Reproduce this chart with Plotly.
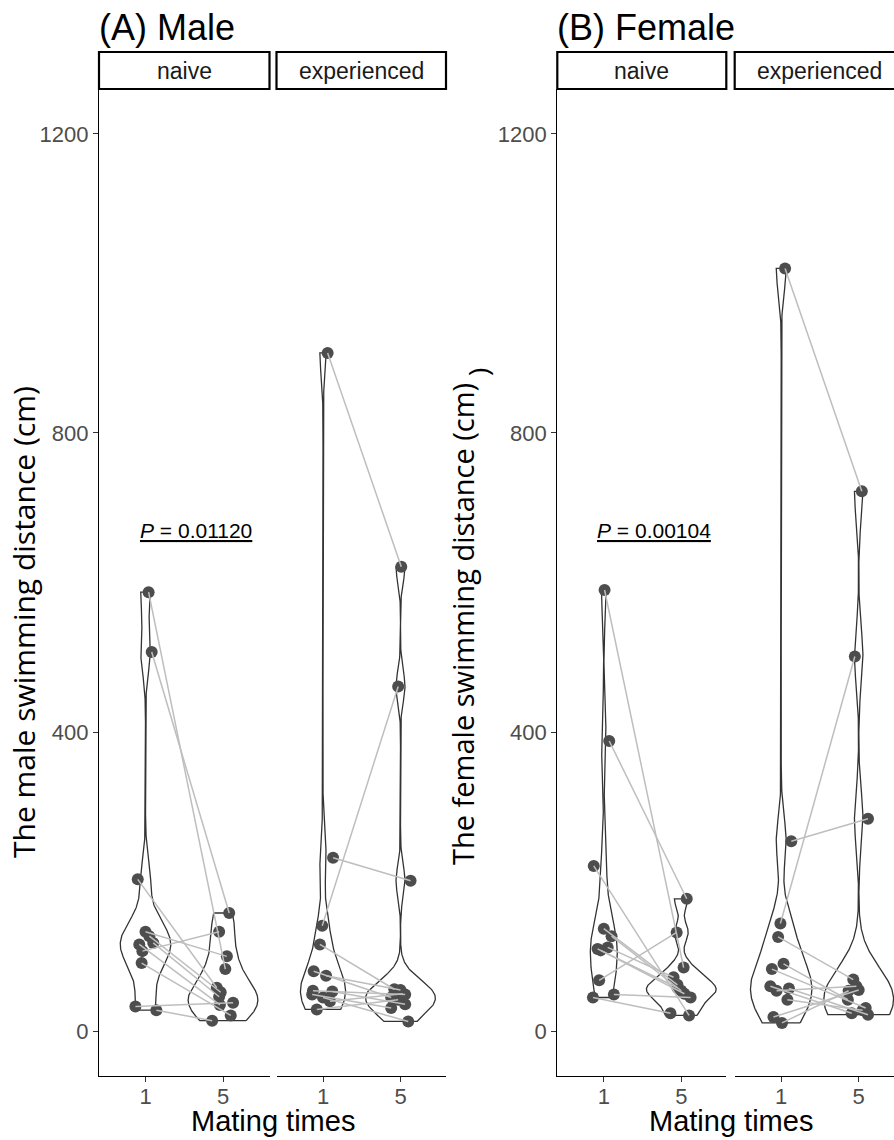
import numpy as np
import plotly.graph_objects as go

# ---- data: swimming distance (cm) after 1st and 5th mating, paired by individual ----
male_naive_1 = [587, 507, 203, 133, 127, 118, 116, 107, 91, 33, 28]
male_naive_5 = [83, 158, 58, 100, 52, 46, 35, 133, 21, 38, 14]
male_exp_1 = [907, 232, 141, 116, 80, 74, 54, 53, 49, 45, 40, 29]
male_exp_5 = [621, 201, 461, 56, 45, 55, 49, 36, 31, 13, 50, 42]
female_naive_1 = [590, 388, 221, 137, 127, 112, 110, 108, 68, 49, 45]
female_naive_5 = [85, 177, 21, 62, 54, 72, 58, 50, 132, 45, 24]
female_exp_1 = [1020, 254, 144, 126, 90, 83, 60, 57, 54, 42, 19, 11]
female_exp_5 = [722, 284, 501, 69, 42, 31, 24, 22, 60, 28, 55, 54]

# horizontal jitter of the points (in category units)
jit_mn1 = [0.04, 0.08, -0.10, 0.00, 0.05, 0.10, -0.08, -0.04, -0.05, -0.13, 0.14]
jit_mn5 = [0.03, 0.08, -0.08, 0.05, -0.03, -0.05, -0.04, -0.05, 0.10, 0.13, -0.14]
jit_me1 = [0.06, 0.13, -0.01, -0.04, -0.12, 0.04, -0.13, 0.12, -0.14, 0.00, 0.09, -0.08]
jit_me5 = [0.01, 0.13, -0.03, -0.08, -0.12, 0.00, 0.06, 0.06, -0.12, 0.10, 0.03, -0.03]
jit_fn1 = [0.01, 0.07, -0.13, 0.00, 0.10, 0.05, -0.08, -0.04, -0.06, 0.13, -0.14]
jit_fn5 = [0.03, 0.07, 0.10, -0.05, 0.00, -0.10, -0.05, 0.04, -0.06, 0.12, -0.14]
jit_fe1 = [0.05, 0.13, -0.01, -0.04, 0.03, -0.12, -0.14, 0.10, -0.06, 0.08, -0.10, 0.01]
jit_fe5 = [0.04, 0.12, -0.05, -0.07, -0.14, 0.09, -0.09, 0.12, -0.03, 0.05, 0.00, -0.13]

mating_labels = ["1", "5"]
facet_labels = ["naive", "experienced"]
p_values = ["0.01120", "0.00104"]

W, H = 894, 1140
def px(x):
    return x / W
def py(y):
    return 1 - y / H

VIOLIN_LINE = "#333333"
POINT_COL = "#4D4D4D"
PAIR_COL = "#BEBEBE"
AXIS_FONT = "Liberation Sans, Arial, Helvetica, sans-serif"
TITLE_FONT = "Open Sans, sans-serif"

def kde(vals):
    x = np.asarray(vals, float)
    n = len(x)
    sd = x.std(ddof=1)
    q75, q25 = np.percentile(x, [75, 25])
    lo = min(sd, (q75 - q25) / 1.34)
    bw = 0.9 * lo * n ** -0.2
    grid = np.linspace(x.min(), x.max(), 512)
    d = np.exp(-0.5 * ((grid[:, None] - x[None, :]) / bw) ** 2).sum(1) / (n * bw * np.sqrt(2 * np.pi))
    return grid, d

fig = go.Figure()

# panel geometry (pixels): left, right of each facet
facets = [
    dict(l=99, r=269.5, d1=male_naive_1, d5=male_naive_5, j1=jit_mn1, j5=jit_mn5),
    dict(l=276.5, r=446, d1=male_exp_1, d5=male_exp_5, j1=jit_me1, j5=jit_me5),
    dict(l=557.3, r=726.3, d1=female_naive_1, d5=female_naive_5, j1=jit_fn1, j5=jit_fn5),
    dict(l=734.7, r=904.2, d1=female_exp_1, d5=female_exp_5, j1=jit_fe1, j5=jit_fe5),
]
unit_px = 170.5 / 2.2
y_top, y_bot = 89, 1076

for k, f in enumerate(facets):
    xa = "x" if k == 0 else f"x{k+1}"
    ya = "y" if k == 0 else f"y{k+1}"
    # violins (area-scaled within facet, trimmed, width 0.9)
    dens = [kde(f["d1"]), kde(f["d5"])]
    dmax = max(d.max() for _, d in dens)
    for pos, (g, d) in zip([1, 2], dens):
        half = d / dmax * 0.45
        vx = np.concatenate([pos + half, (pos - half)[::-1], [pos + half[0]]])
        vy = np.concatenate([g, g[::-1], [g[0]]])
        fig.add_trace(go.Scatter(x=vx, y=vy, mode="lines", fill="toself", fillcolor="white",
                                 line=dict(color=VIOLIN_LINE, width=1.3), xaxis=xa, yaxis=ya,
                                 hoverinfo="skip", showlegend=False))
    # points
    x1 = [1 + j for j in f["j1"]]
    x5 = [2 + j for j in f["j5"]]
    fig.add_trace(go.Scatter(x=x1 + x5, y=f["d1"] + f["d5"], mode="markers",
                             marker=dict(color=POINT_COL, size=12), xaxis=xa, yaxis=ya,
                             showlegend=False))
    # paired lines
    lx, ly = [], []
    for a, b, va, vb in zip(x1, x5, f["d1"], f["d5"]):
        lx += [a, b, None]
        ly += [va, vb, None]
    fig.add_trace(go.Scatter(x=lx, y=ly, mode="lines", line=dict(color=PAIR_COL, width=1.5),
                             xaxis=xa, yaxis=ya, hoverinfo="skip", showlegend=False))

    r_px = min(f["r"], W)
    xmax = 0.4 + (r_px - f["l"]) / unit_px
    left_axis = k in (0, 2)
    fig.update_layout(**{
        ("xaxis" if k == 0 else f"xaxis{k+1}"): dict(
            domain=[px(f["l"]), px(r_px)], range=[0.4, xmax], anchor=ya,
            tickvals=[1, 2], ticktext=mating_labels, showline=True, linecolor="black",
            linewidth=1.3, ticks="outside", ticklen=5, tickcolor="#333333", tickwidth=1.1,
            ticklabelstandoff=-5,
            tickfont=dict(family=AXIS_FONT, size=22, color="#4D4D4D"),
            showgrid=False, zeroline=False, fixedrange=True),
        ("yaxis" if k == 0 else f"yaxis{k+1}"): dict(
            domain=[py(y_bot), py(y_top)], range=[-60, 1260], anchor=xa,
            tickvals=[0, 400, 800, 1200] if left_axis else [],
            showticklabels=left_axis, showline=left_axis, linecolor="black", linewidth=1.3,
            ticks="outside" if left_axis else "", ticklen=5, tickcolor="#333333", tickwidth=1.1,
            tickfont=dict(family=AXIS_FONT, size=22, color="#4D4D4D"),
            showgrid=False, zeroline=False, fixedrange=True),
    })

    # strip
    fig.add_shape(type="rect", xref="paper", yref="paper", x0=px(f["l"]), x1=px(f["r"]),
                  y0=py(y_top), y1=py(52), line=dict(color="black", width=2.2), fillcolor="white")
    fig.add_annotation(xref="paper", yref="paper", x=px((f["l"] + f["r"]) / 2), y=py(70.5),
                       text=facet_labels[k % 2], showarrow=False,
                       font=dict(family=AXIS_FONT, size=23, color="#1A1A1A"),
                       xanchor="center", yanchor="middle")

# panel titles, x titles, y titles, p-values
panels = [
    dict(title="(A) Male", l=99, r=446, ytitle="The male swimming distance (cm)", yx=23, yy=622,
         ysize=30, p=p_values[0], xa="x", ya="y"),
    dict(title="(B) Female", l=557.3, r=904.2, ytitle="The female swimming distance (cm)", yx=462, yy=624,
         ysize=29, p=p_values[1], xa="x3", ya="y3"),
]
for p in panels:
    fig.add_annotation(xref="paper", yref="paper", x=px(p["l"] - 2), y=py(28), text=p["title"],
                       showarrow=False, xanchor="left", yanchor="middle",
                       font=dict(family=AXIS_FONT, size=36, color="black"))
    fig.add_annotation(xref="paper", yref="paper", x=px((p["l"] + p["r"]) / 2), y=py(1121),
                       text="Mating times", showarrow=False, xanchor="center", yanchor="middle",
                       font=dict(family=AXIS_FONT, size=29, color="black"))
    fig.add_annotation(xref="paper", yref="paper", x=px(p["yx"]), y=py(p["yy"]), text=p["ytitle"],
                       textangle=-90, showarrow=False, xanchor="center", yanchor="middle",
                       font=dict(family=TITLE_FONT, size=p["ysize"], color="black"))
    fig.add_annotation(xref=p["xa"], yref=p["ya"], x=1.65, y=670,
                       text='<span style="text-decoration:underline"><i>P</i> = ' + p["p"] + '</span>',
                       showarrow=False, xanchor="center", yanchor="middle",
                       font=dict(family=AXIS_FONT, size=21, color="black"))

# stray closing bracket beside the female y title
fig.add_annotation(xref="paper", yref="paper", x=px(478), y=py(372), text=")", textangle=-90,
                   showarrow=False, xanchor="center", yanchor="middle",
                   font=dict(family=TITLE_FONT, size=28, color="black"))

fig.update_layout(width=W, height=H, margin=dict(l=0, r=0, t=0, b=0),
                  paper_bgcolor="white", plot_bgcolor="white", showlegend=False)

fig.write_html("out.html")
